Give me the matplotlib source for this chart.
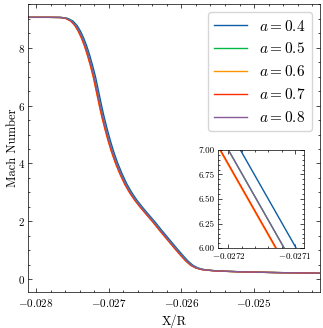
import matplotlib
matplotlib.use("Agg")
import matplotlib.pyplot as plt
from matplotlib.ticker import AutoMinorLocator, MultipleLocator

plt.rcParams.update({
    'font.family': 'serif',
    'font.serif': ['cmr10'],
    'mathtext.fontset': 'cm',
    'axes.formatter.use_mathtext': True,
    'font.size': 8,
    'axes.labelsize': 9,
    'axes.linewidth': 0.5,
    'xtick.direction': 'in',
    'ytick.direction': 'in',
    'xtick.top': True,
    'ytick.right': True,
    'xtick.major.size': 3,
    'ytick.major.size': 3,
    'xtick.minor.size': 1.5,
    'ytick.minor.size': 1.5,
    'xtick.major.width': 0.5,
    'ytick.major.width': 0.5,
    'xtick.minor.width': 0.5,
    'ytick.minor.width': 0.5,
    'xtick.minor.visible': True,
    'ytick.minor.visible': True,
    'ytick.major.pad': 2.5,
})

# data (Mach number vs X/R for each a)
mach = [9.05, 9.05, 9.045, 9.01, 8.92, 8.77, 8.57, 8.35, 8.08, 7.76, 7.40, 7.00,
        6.00, 5.63, 5.21, 4.83, 4.43, 4.03, 3.65, 3.28, 2.98, 2.73, 2.52, 2.26,
        1.98, 1.68, 1.35, 1.06, 0.82, 0.63, 0.48, 0.39, 0.335, 0.29, 0.26, 0.23,
        0.21]

x_a04 = [-0.028106, -0.027807, -0.027642, -0.027560, -0.027491, -0.027436, -0.027388,
         -0.027347, -0.027305, -0.027264, -0.027223, -0.027182, -0.027098, -0.027065,
         -0.027023, -0.026982, -0.026934, -0.026879, -0.026817, -0.026748, -0.026679,
         -0.026611, -0.026546, -0.026459, -0.026363, -0.026267, -0.026157, -0.026061,
         -0.025978, -0.025909, -0.025840, -0.025772, -0.025689, -0.025514, -0.025194,
         -0.024644, -0.024094]
x_a05 = [-0.028106, -0.027825, -0.027660, -0.027578, -0.027509, -0.027454, -0.027406,
         -0.027365, -0.027323, -0.027282, -0.027241, -0.027200, -0.027116, -0.027083,
         -0.027041, -0.027000, -0.026952, -0.026897, -0.026835, -0.026766, -0.026697,
         -0.026629, -0.026564, -0.026477, -0.026381, -0.026285, -0.026175, -0.026079,
         -0.025996, -0.025927, -0.025858, -0.025790, -0.025707, -0.025532, -0.025212,
         -0.024662, -0.024094]
x_a06 = [-0.028106, -0.027838, -0.027673, -0.027591, -0.027522, -0.027467, -0.027419,
         -0.027378, -0.027336, -0.027295, -0.027254, -0.027213, -0.027129, -0.027096,
         -0.027054, -0.027013, -0.026965, -0.026910, -0.026848, -0.026779, -0.026710,
         -0.026642, -0.026577, -0.026490, -0.026394, -0.026298, -0.026188, -0.026092,
         -0.026009, -0.025940, -0.025871, -0.025803, -0.025720, -0.025545, -0.025225,
         -0.024675, -0.024094]
x_a07 = [-0.028106, -0.027837, -0.027672, -0.027590, -0.027521, -0.027466, -0.027418,
         -0.027377, -0.027335, -0.027294, -0.027253, -0.027212, -0.027128, -0.027095,
         -0.027053, -0.027012, -0.026964, -0.026909, -0.026847, -0.026778, -0.026709,
         -0.026641, -0.026576, -0.026489, -0.026393, -0.026297, -0.026187, -0.026091,
         -0.026008, -0.025939, -0.025870, -0.025802, -0.025719, -0.025544, -0.025224,
         -0.024674, -0.024094]
x_a08 = [-0.028106, -0.027825, -0.027660, -0.027578, -0.027509, -0.027454, -0.027406,
         -0.027365, -0.027323, -0.027282, -0.027241, -0.027200, -0.027116, -0.027083,
         -0.027041, -0.027000, -0.026952, -0.026897, -0.026835, -0.026766, -0.026697,
         -0.026629, -0.026564, -0.026477, -0.026381, -0.026285, -0.026175, -0.026079,
         -0.025996, -0.025927, -0.025858, -0.025790, -0.025707, -0.025532, -0.025212,
         -0.024662, -0.024094]

labels = [r'$a = 0.4$', r'$a = 0.5$', r'$a = 0.6$', r'$a = 0.7$', r'$a = 0.8$']
colors = ['#0C5DA5', '#00B945', '#FF9500', '#FF2C00', '#845B97']
series = [x_a04, x_a05, x_a06, x_a07, x_a08]

fig = plt.figure(figsize=(3.23, 3.28), dpi=100)
ax = fig.add_axes([0.0876, 0.1088, 0.9031, 0.879])

for xs, c, lab in zip(series, colors, labels):
    ax.plot(xs, mach, color=c, lw=1.0, label=lab)

ax.set_xlim(-0.028106, -0.024094)
ax.set_ylim(-0.45, 9.51)
ax.xaxis.set_major_locator(MultipleLocator(0.001))
ax.yaxis.set_major_locator(MultipleLocator(2))
ax.xaxis.set_minor_locator(AutoMinorLocator(5))
ax.yaxis.set_minor_locator(AutoMinorLocator(4))
ax.set_xlabel('X/R', labelpad=4)
ax.set_ylabel('Mach Number', labelpad=-1)
ax.legend(loc='upper right', fontsize=11, handlelength=2.15, labelspacing=0.52,
          borderaxespad=0.55)

# zoomed inset
axi = fig.add_axes([0.674, 0.243, 0.268, 0.300])
for xs, c in zip(series, colors):
    axi.plot(xs, mach, color=c, lw=1.0)
axi.set_xlim(-0.027216, -0.027086)
axi.set_ylim(6.0, 7.0)
axi.xaxis.set_major_locator(MultipleLocator(0.0001))
axi.yaxis.set_major_locator(MultipleLocator(0.25))
axi.xaxis.set_minor_locator(AutoMinorLocator(5))
axi.yaxis.set_minor_locator(AutoMinorLocator(5))
axi.yaxis.set_major_formatter(plt.FormatStrFormatter('%.2f'))
axi.tick_params(labelsize=6.5, pad=2)

fig.savefig('out.png', dpi=100)
